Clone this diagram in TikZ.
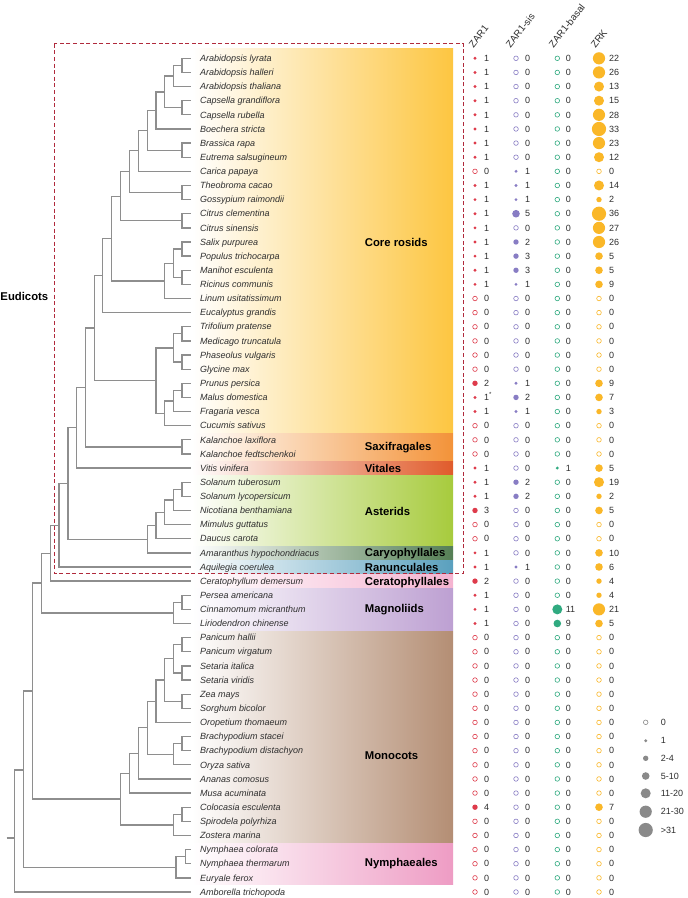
\documentclass[tikz,border=0pt]{standalone}
\usepackage{fontspec}
\setmainfont{Liberation Sans}
\usetikzlibrary{calc}
\definecolor{brc}{HTML}{8E8E8E}
\definecolor{boxc}{HTML}{B02A3C}
\definecolor{zac}{HTML}{DE3B4B}
\definecolor{zsc}{HTML}{887DC4}
\definecolor{zbc}{HTML}{30AA80}
\definecolor{zkc}{HTML}{FAB728}
\definecolor{lgc}{HTML}{8A8A8A}
\definecolor{txc}{HTML}{2E2E2E}
\definecolor{cCR}{HTML}{FDC641}
\definecolor{cSX}{HTML}{F39339}
\definecolor{cVI}{HTML}{E05B2B}
\definecolor{cAS}{HTML}{A7CB3D}
\definecolor{cCA}{HTML}{557F55}
\definecolor{cRA}{HTML}{5AA0BE}
\definecolor{cCE}{HTML}{F5B3D0}
\definecolor{cMA}{HTML}{BDA0D2}
\definecolor{cMO}{HTML}{B48E74}
\definecolor{cNY}{HTML}{EE9CC4}
\newcommand\jn[4]{%
  \path ($(#3)!0.5!(#4)$) coordinate (m#1);
  \coordinate (#1) at (#2,0 |- m#1);
  \draw[br] (#1) |- (#3);
  \draw[br] (#1) |- (#4);}
\newcommand\cntdot[4]{%
  \pgfmathsetmacro\rr{(#3==0)?2.3:((#3==1)?1.6:((#3<5)?2.7:((#3<11)?3.8:((#3<21)?5:((#3<31)?6.1:7.1)))))}%
  \ifnum#3=0\relax
    \draw[#4,line width=0.6pt] (#1,#2) circle[radius=\rr];
  \else
    \fill[#4] (#1,#2) circle[radius=\rr];
  \fi}
\begin{document}
\begin{tikzpicture}[x=1pt,y=-1pt,
  br/.style={draw=brc,line width=1.3pt},
  sp/.style={anchor=base west,inner sep=0,font=\fontsize{9}{10}\selectfont\itshape,text=txc},
  num/.style={anchor=base west,inner sep=0,font=\fontsize{9}{10}\selectfont,text=txc},
  grp/.style={anchor=base west,inner sep=0,font=\fontsize{11.3}{13}\selectfont\bfseries,text=black},
  hdr/.style={anchor=base west,inner sep=0,rotate=52,font=\fontsize{9.8}{11}\selectfont,text=txc},
  lgl/.style={anchor=base west,inner sep=0,font=\fontsize{9}{10}\selectfont,text=txc}]
\useasboundingbox (0,0) rectangle (688,898);
\fill[white] (0,0) rectangle (688,898);
% bands
\foreach \a/\b/\col/\lab/\ly [count=\k] in {1/27/cCR/Core rosids/242.3,
  28/29/cSX/Saxifragales/446.7, 30/30/cVI/Vitales/468.3,
  31/35/cAS/Asterids/511, 36/36/cCA/Caryophyllales/552.8,
  37/37/cRA/Ranunculales/567, 38/38/cCE/Ceratophyllales/581.5,
  39/41/cMA/Magnoliids/608.7, 42/56/cMO/Monocots/755,
  57/59/cNY/Nymphaeales/862.3}{
  \pgfmathsetmacro\yt{\a==1 ? 48.5 : (58.3+(\a-1)*14.13-7.065+0.5)}
  \pgfmathsetmacro\yb{58.3+(\b-1)*14.13+7.065-0.5}
  \shade[left color=white,right color=\col] (192,\yt) rectangle (453,\yb);
  \node[grp] (g\k) at (364.7,\ly+4) {\lab};
}
% dashed box
\draw[boxc,line width=1.1pt,dash pattern=on 4pt off 2.6pt] (54.3,43.7) rectangle (463.3,573.3);
\node[grp] (eud) at (0.3,300) {Eudicots};
% headers
\node[hdr] (h1) at (473.5,48.5) {ZAR1};
\node[hdr] (h2) at (510.5,48.5) {ZAR1-sis};
\node[hdr] (h3) at (553.5,48.5) {ZAR1-basal};
\node[hdr] (h4) at (595.5,48.5) {ZRK};
% rows
\foreach \i/\sp/\za/\zs/\zb/\zk in {
1/Arabidopsis lyrata/1/0/0/22,
2/Arabidopsis halleri/1/0/0/26,
3/Arabidopsis thaliana/1/0/0/13,
4/Capsella grandiflora/1/0/0/15,
5/Capsella rubella/1/0/0/28,
6/Boechera stricta/1/0/0/33,
7/Brassica rapa/1/0/0/23,
8/Eutrema salsugineum/1/0/0/12,
9/Carica papaya/0/1/0/0,
10/Theobroma cacao/1/1/0/14,
11/Gossypium raimondii/1/1/0/2,
12/Citrus clementina/1/5/0/36,
13/Citrus sinensis/1/0/0/27,
14/Salix purpurea/1/2/0/26,
15/Populus trichocarpa/1/3/0/5,
16/Manihot esculenta/1/3/0/5,
17/Ricinus communis/1/1/0/9,
18/Linum usitatissimum/0/0/0/0,
19/Eucalyptus grandis/0/0/0/0,
20/Trifolium pratense/0/0/0/0,
21/Medicago truncatula/0/0/0/0,
22/Phaseolus vulgaris/0/0/0/0,
23/Glycine max/0/0/0/0,
24/Prunus persica/2/1/0/9,
25/Malus domestica/1/2/0/7,
26/Fragaria vesca/1/1/0/3,
27/Cucumis sativus/0/0/0/0,
28/Kalanchoe laxiflora/0/0/0/0,
29/Kalanchoe fedtschenkoi/0/0/0/0,
30/Vitis vinifera/1/0/1/5,
31/Solanum tuberosum/1/2/0/19,
32/Solanum lycopersicum/1/2/0/2,
33/Nicotiana benthamiana/3/0/0/5,
34/Mimulus guttatus/0/0/0/0,
35/Daucus carota/0/0/0/0,
36/Amaranthus hypochondriacus/1/0/0/10,
37/Aquilegia coerulea/1/1/0/6,
38/Ceratophyllum demersum/2/0/0/4,
39/Persea americana/1/0/0/4,
40/Cinnamomum micranthum/1/0/11/21,
41/Liriodendron chinense/1/0/9/5,
42/Panicum hallii/0/0/0/0,
43/Panicum virgatum/0/0/0/0,
44/Setaria italica/0/0/0/0,
45/Setaria viridis/0/0/0/0,
46/Zea mays/0/0/0/0,
47/Sorghum bicolor/0/0/0/0,
48/Oropetium thomaeum/0/0/0/0,
49/Brachypodium stacei/0/0/0/0,
50/Brachypodium distachyon/0/0/0/0,
51/Oryza sativa/0/0/0/0,
52/Ananas comosus/0/0/0/0,
53/Musa acuminata/0/0/0/0,
54/Colocasia esculenta/4/0/0/7,
55/Spirodela polyrhiza/0/0/0/0,
56/Zostera marina/0/0/0/0,
57/Nymphaea colorata/0/0/0/0,
58/Nymphaea thermarum/0/0/0/0,
59/Euryale ferox/0/0/0/0,
60/Amborella trichopoda/0/0/0/0}{
  \pgfmathsetmacro\yy{58.3+(\i-1)*14.13}
  \coordinate (r\i) at (190.7,\yy);
  \node[sp] (s\i) at (200,\yy+3.2) {\sp};
  \cntdot{475}{\yy}{\za}{zac}
  \cntdot{516}{\yy}{\zs}{zsc}
  \cntdot{557.3}{\yy}{\zb}{zbc}
  \cntdot{599}{\yy}{\zk}{zkc}
  \ifnum\i=25\relax
    \node[num] (na\i) at (484,\yy+3.2) {\za\textsuperscript{*}};
  \else
    \node[num] (na\i) at (484,\yy+3.2) {\za};
  \fi
  \node[num] (ns\i) at (525,\yy+3.2) {\zs};
  \node[num] (nb\i) at (565.7,\yy+3.2) {\zb};
  \node[num] (nk\i) at (609,\yy+3.2) {\zk};
}
% tree
\jn{a1}{182}{r1}{r2}
\jn{a2}{173.3}{a1}{r3}
\jn{a3}{182}{r4}{r5}
\jn{a4}{164.7}{a2}{a3}
\jn{a5}{156}{a4}{r6}
\jn{a6}{182}{r7}{r8}
\jn{a7}{147.2}{a5}{a6}
\jn{a8}{138.3}{a7}{r9}
\jn{a9}{182}{r10}{r11}
\jn{a10}{129.5}{a8}{a9}
\jn{a11}{182}{r12}{r13}
\jn{a12}{120.5}{a10}{a11}
\jn{a13}{182}{r14}{r15}
\jn{a14}{182}{r16}{r17}
\jn{a15}{173.3}{a13}{a14}
\jn{a16}{164.7}{a15}{r18}
\jn{a17}{111.5}{a12}{a16}
\jn{a18}{102.7}{a17}{r19}
\jn{b1}{182}{r20}{r21}
\jn{b2}{182}{r22}{r23}
\jn{b3}{173.3}{b1}{b2}
\jn{b4}{182}{r24}{r25}
\jn{b5}{173.3}{b4}{r26}
\jn{b6}{164.7}{b5}{r27}
\jn{b7}{156}{b3}{b6}
\jn{b8}{94.3}{a18}{b7}
\jn{c1}{182}{r28}{r29}
\jn{c2}{85.7}{b8}{c1}
\jn{c3}{76.8}{c2}{r30}
\jn{d1}{182}{r31}{r32}
\jn{d2}{173.3}{d1}{r33}
\jn{d3}{164.7}{d2}{r34}
\jn{d4}{156}{d3}{r35}
\jn{d5}{147.2}{d4}{r36}
\jn{d6}{68}{c3}{d5}
\jn{d7}{59}{d6}{r37}
\jn{d8}{50.2}{d7}{r38}
\jn{e1}{182}{r39}{r40}
\jn{e2}{173.3}{e1}{r41}
\jn{e3}{41.3}{d8}{e2}
\jn{f1}{182}{r42}{r43}
\jn{f2}{182}{r44}{r45}
\jn{f3}{173.3}{f1}{f2}
\jn{f4}{182}{r46}{r47}
\jn{f5}{164.7}{f3}{f4}
\jn{f6}{156}{f5}{r48}
\jn{f7}{182}{r49}{r50}
\jn{f8}{173.3}{f7}{r51}
\jn{f9}{147.2}{f6}{f8}
\jn{f10}{138.3}{f9}{r52}
\jn{f11}{129.5}{f10}{r53}
\jn{f12}{182}{r54}{r55}
\jn{f13}{173.3}{f12}{r56}
\jn{f14}{120.5}{f11}{f13}
\jn{g1}{32.3}{e3}{f14}
\jn{h1}{185.3}{r57}{r58}
\jn{h2}{176}{h1}{r59}
\coordinate (g2) at (23.3,770);
\draw[br] (g2) |- (g1);
\draw[br] (g2) |- (h2);
\coordinate (root) at (14.3,838);
\coordinate (stub) at (6.7,838);
\draw[br] (root) |- (g2);
\draw[br] (root) |- (r60);
\draw[br] (stub) -- (root);
% legend
\foreach \v/\lab/\ly [count=\k] in {0/0/722.3, 1/1/740.7, 3/2-4/758.3, 7/5-10/776,
  15/11-20/793.3, 25/21-30/811.7, 40/{>31}/830}{
  \cntdot{645.7}{\ly}{\v}{lgc}
  \node[lgl] (l\k) at (660.7,\ly+3.2) {\lab};
}
\end{tikzpicture}
\end{document}
